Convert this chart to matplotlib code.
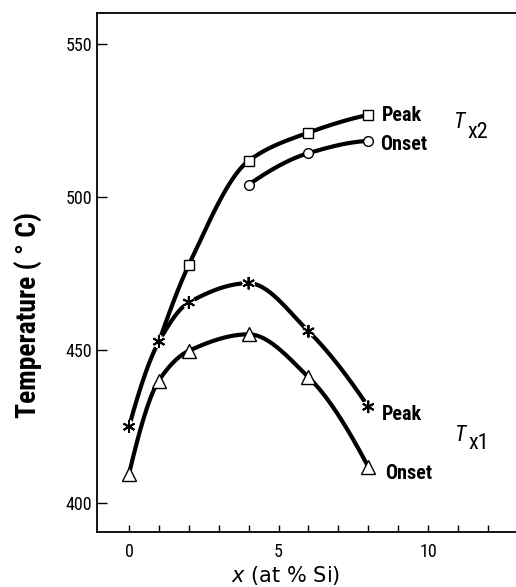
import numpy as np
import matplotlib
matplotlib.use("Agg")
import matplotlib.pyplot as plt
import matplotlib.patheffects as pe
from matplotlib import font_manager

available = {f.name for f in font_manager.fontManager.ttflist}
NARROW = next((f for f in ['Liberation Sans Narrow', 'Roboto Condensed', 'Open Sans Condensed',
                           'Noto Sans Condensed', 'DejaVu Sans Condensed', 'Roboto',
                           'Liberation Sans'] if f in available), 'DejaVu Sans')
plt.rcParams['font.family'] = [NARROW, 'DejaVu Sans']

# ---- data ----
tx1_peak_x = [0, 1, 2, 4, 6, 8]
tx1_peak_y = [424.8, 452.6, 465.4, 471.7, 456.0, 431.3]
tx1_onset_x = [0, 1, 2, 4, 6, 8]
tx1_onset_y = [409.4, 439.9, 449.6, 455.0, 441.0, 411.7]
tx2_peak_x = [2, 4, 6, 8]
tx2_peak_y = [477.7, 511.7, 520.9, 526.7]
tx2_onset_x = [4, 6, 8]
tx2_onset_y = [503.9, 514.2, 518.2]
xticks_major = [0, 5, 10]
yticks = [400, 450, 500, 550]


def pchip(x, y, n=300):
    x = np.asarray(x, float); y = np.asarray(y, float)
    h = np.diff(x); delta = np.diff(y) / h
    m = len(x)
    d = np.zeros(m)
    for k in range(1, m - 1):
        if delta[k - 1] * delta[k] > 0:
            w1 = 2 * h[k] + h[k - 1]
            w2 = h[k] + 2 * h[k - 1]
            d[k] = (w1 + w2) / (w1 / delta[k - 1] + w2 / delta[k])
    def end(h0, h1, d0, d1):
        v = ((2 * h0 + h1) * d0 - h0 * d1) / (h0 + h1)
        if np.sign(v) != np.sign(d0):
            v = 0.0
        elif np.sign(d0) != np.sign(d1) and abs(v) > abs(3 * d0):
            v = 3 * d0
        return v
    if m > 2:
        d[0] = end(h[0], h[1], delta[0], delta[1])
        d[-1] = end(h[-1], h[-2], delta[-1], delta[-2])
    else:
        d[:] = delta[0]
    xs = np.linspace(x[0], x[-1], n)
    ys = np.empty_like(xs)
    for j, xv in enumerate(xs):
        i = min(np.searchsorted(x, xv, side='right') - 1, m - 2)
        t = (xv - x[i]) / h[i]
        h00 = 2 * t**3 - 3 * t**2 + 1
        h10 = t**3 - 2 * t**2 + t
        h01 = -2 * t**3 + 3 * t**2
        h11 = t**3 - t**2
        ys[j] = h00 * y[i] + h10 * h[i] * d[i] + h01 * y[i + 1] + h11 * h[i] * d[i + 1]
    return xs, ys


fig = plt.figure(figsize=(5.16, 5.87), dpi=100)
ax = fig.add_axes([0.1886, 0.0942, 0.8114, 0.8837])
ax.set_xlim(-1.06, 12.94)
ax.set_ylim(390.5, 560)

lw = 3.0
line_kw = dict(color='black', lw=lw, solid_capstyle='butt', zorder=2)
xs, ys = pchip(tx1_peak_x, tx1_peak_y)
ax.plot(xs, ys, **line_kw)
xs, ys = pchip(tx1_onset_x, tx1_onset_y)
ax.plot(xs, ys, **line_kw)
# Tx2 peak branches off the Tx1 peak curve at x = 1
xs, ys = pchip([tx1_peak_x[1]] + tx2_peak_x, [tx1_peak_y[1]] + tx2_peak_y)
ax.plot(xs, ys, **line_kw)
xs, ys = pchip(tx2_onset_x, tx2_onset_y)
ax.plot(xs, ys, **line_kw)

# markers
ax.plot(tx2_peak_x, tx2_peak_y, ls='none', marker='s', ms=7.5, mfc='white',
        mec='black', mew=1.0, zorder=4)
ax.plot(tx2_onset_x, tx2_onset_y, ls='none', marker='o', ms=7, mfc='white',
        mec='black', mew=1.0, zorder=4)
ax.plot(tx1_onset_x, tx1_onset_y, ls='none', marker='^', ms=10, mfc='white',
        mec='black', mew=1.0, zorder=4)
ax.plot(tx1_peak_x, tx1_peak_y, ls='none', marker=(6, 2, 0), ms=9,
        mec='black', mew=1.4, zorder=4,
        path_effects=[pe.Stroke(linewidth=3.5, foreground='white'), pe.Normal()])

# axes styling
for s in ['left', 'bottom', 'top']:
    ax.spines[s].set_linewidth(1.3)
    ax.spines[s].set_color('black')
ax.spines['right'].set_visible(False)
ax.set_xticks(xticks_major)
ax.set_xticks([v for v in range(0, 13) if v not in xticks_major], minor=True)
ax.set_yticks(yticks)
ax.tick_params(axis='x', which='both', direction='in', length=4.8, width=1.0,
               labelsize=13, pad=8.0, top=False)
ax.tick_params(axis='y', which='both', direction='in', length=7.2, width=1.0,
               labelsize=13, pad=3.5, right=False)

ax.set_ylabel('Temperature ( ° C)', fontsize=20, fontweight='bold')
ax.yaxis.label.set_va('center')
ax.yaxis.set_label_coords(-0.1655, 0.418)
ax.set_xlabel(r'$x$ (at % Si)', fontsize=15, family='DejaVu Sans')
ax.xaxis.label.set_va('baseline')
ax.xaxis.set_label_coords(0.449, -0.0964)

# annotations
tk = dict(fontsize=14.5, fontweight='bold', ha='left', va='baseline')
ax.text(8.45, 524.6, 'Peak', **tk)
ax.text(8.4, 515.2, 'Onset', **tk)
ax.text(8.45, 427.0, 'Peak', **tk)
ax.text(8.55, 407.8, 'Onset', **tk)
ax.text(10.83, 522.4, 'T', fontsize=16, style='italic', ha='left', va='baseline')
ax.text(11.3, 519.2, 'x2', fontsize=16, ha='left', va='baseline')
ax.text(10.88, 420.2, 'T', fontsize=16, style='italic', ha='left', va='baseline')
ax.text(11.34, 417.6, 'x1', fontsize=16, ha='left', va='baseline')

fig.savefig('out.png', dpi=100)
